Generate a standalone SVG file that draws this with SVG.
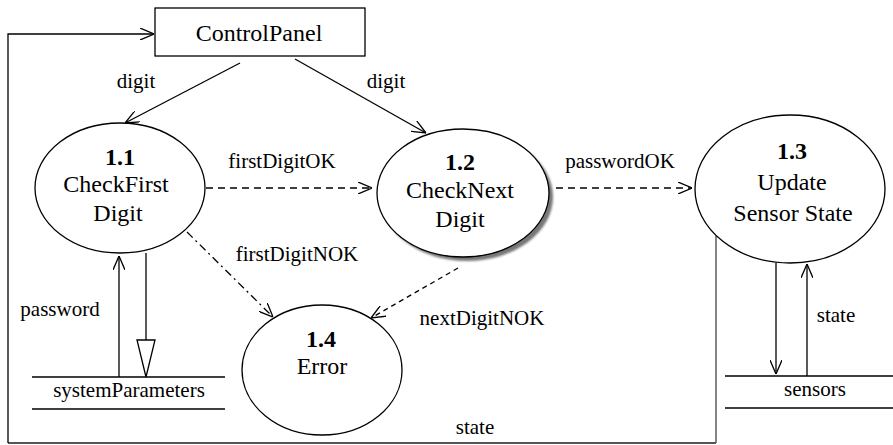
<svg xmlns="http://www.w3.org/2000/svg" width="893" height="445" viewBox="0 0 893 445">
  <style>
    .bubble { fill: #fff; stroke: #000; stroke-width: 1.3; }
    .line { fill: none; stroke: #000; stroke-width: 1.3; }
    .dash { fill: none; stroke: #000; stroke-width: 1.3; stroke-dasharray: 7 5; }
    .dashdot { fill: none; stroke: #000; stroke-width: 1.3; stroke-dasharray: 8 4 2 4; }
    .dots { fill: none; stroke: #000; stroke-width: 1.3; stroke-dasharray: 5 4; }
    text { font-family: 'Liberation Serif', 'Times New Roman', serif; fill: #000; text-anchor: middle; }
    .node { font-size: 24px; }
    .num { font-weight: bold; }
    .lbl { font-size: 21px; }
  </style>
  <defs>
    <marker id="open" viewBox="0 0 14 12" refX="14" refY="6" markerWidth="14" markerHeight="12" markerUnits="userSpaceOnUse" orient="auto">
      <path d="M0,0 L14,6 L0,12" fill="none" stroke="#000" stroke-width="1.3"/>
    </marker>
    <filter id="soft" x="-10%" y="-10%" width="120%" height="120%">
      <feGaussianBlur stdDeviation="1.2"/>
    </filter>
  </defs>

  <rect width="893" height="445" fill="#fff"/>

  <!-- connectors -->
  <g id="connectors">
    <!-- state feedback loop back to the control panel -->
    <polyline class="line" points="716,236 716,443" style="stroke:#444"/>
    <polyline class="line" points="716,443 8,443" style="stroke:#555;stroke-width:2"/>
    <polyline class="line" points="8,443 8,34 154,34" marker-end="url(#open)"/>
    <!-- digit flows -->
    <line class="line" x1="240" y1="63" x2="125" y2="123" marker-end="url(#open)"/>
    <line class="line" x1="295" y1="59" x2="426" y2="133" marker-end="url(#open)"/>
    <!-- firstDigitOK / passwordOK -->
    <line class="dash" x1="206" y1="188" x2="372" y2="188" marker-end="url(#open)"/>
    <line class="dash" x1="556" y1="188" x2="692" y2="188" marker-end="url(#open)"/>
    <!-- error flows -->
    <line class="dashdot" x1="187" y1="232" x2="273" y2="317" marker-end="url(#open)"/>
    <line class="dots" x1="458" y1="268" x2="371" y2="318" marker-end="url(#open)"/>
    <!-- password store flows -->
    <line class="line" x1="119" y1="377" x2="119" y2="256" marker-end="url(#open)"/>
    <line class="line" x1="146" y1="253" x2="146" y2="340"/>
    <polygon points="137,340 155,340 146,377" fill="#fff" stroke="#000" stroke-width="1.3"/>
    <!-- sensors store flows -->
    <line class="line" x1="776" y1="263" x2="776" y2="374" marker-end="url(#open)"/>
    <line class="line" x1="807" y1="376" x2="807" y2="264" marker-end="url(#open)"/>
    <!-- flow labels -->
    <text class="lbl" x="136" y="88">digit</text>
    <text class="lbl" x="386" y="88">digit</text>
    <text class="lbl" x="282" y="168">firstDigitOK</text>
    <text class="lbl" x="620" y="168">passwordOK</text>
    <text class="lbl" x="297" y="261">firstDigitNOK</text>
    <text class="lbl" x="482" y="325">nextDigitNOK</text>
    <text class="lbl" x="60" y="316">password</text>
    <text class="lbl" x="836" y="322">state</text>
    <text class="lbl" x="475" y="434">state</text>
  </g>

  <g id="control-panel">
    <rect x="155" y="8" width="210" height="48" fill="#fff" stroke="#000" stroke-width="1.3"/>
    <text class="node" x="259" y="41">ControlPanel</text>
  </g>

  <g id="p1-1">
    <ellipse class="bubble" cx="120" cy="188" rx="85" ry="65"/>
    <text class="node num" x="120" y="165">1.1</text>
    <text class="node" x="116" y="192">CheckFirst</text>
    <text class="node" x="118" y="221">Digit</text>
  </g>

  <g id="p1-2">
    <ellipse cx="467" cy="197" rx="86" ry="64" fill="#777" filter="url(#soft)"/>
    <ellipse class="bubble" cx="463" cy="193" rx="86" ry="64"/>
    <text class="node num" x="460" y="170">1.2</text>
    <text class="node" x="460" y="198">CheckNext</text>
    <text class="node" x="460" y="227">Digit</text>
  </g>

  <g id="p1-3">
    <ellipse class="bubble" cx="790" cy="189" rx="95" ry="74"/>
    <text class="node num" x="792" y="159">1.3</text>
    <text class="node" x="792" y="190">Update</text>
    <text class="node" x="793" y="221">Sensor State</text>
  </g>

  <g id="p1-4">
    <ellipse class="bubble" cx="322" cy="370" rx="80" ry="65"/>
    <text class="node num" x="321" y="347">1.4</text>
    <text class="node" x="322" y="374">Error</text>
  </g>

  <g id="store-systemParameters">
    <line class="line" x1="32" y1="377" x2="225" y2="377"/>
    <line class="line" x1="32" y1="409" x2="225" y2="409"/>
    <text class="lbl" x="129" y="397">systemParameters</text>
  </g>

  <g id="store-sensors">
    <line class="line" x1="725" y1="376" x2="893" y2="376"/>
    <line class="line" x1="725" y1="408" x2="893" y2="408"/>
    <text class="lbl" x="815" y="396">sensors</text>
  </g>
</svg>
